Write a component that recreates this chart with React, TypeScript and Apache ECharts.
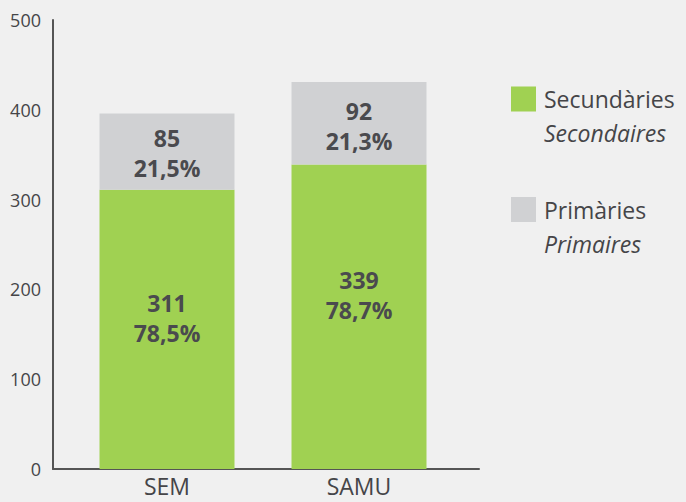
import React, { useEffect, useRef } from "react";
import * as echarts from "echarts";

const categories = ["SEM", "SAMU"];
const secundaries = [311, 339];
const primaries = [85, 92];
const secPct = ["78,5%", "78,7%"];
const priPct = ["21,5%", "21,3%"];
const yTicks = { min: 0, max: 500, interval: 100 };

const FONT = "'Open Sans', 'Noto Sans', sans-serif";
const TXT = "#454548";

export default function App() {
  const ref = useRef<HTMLDivElement>(null);
  useEffect(() => {
    if (!ref.current) return;
    const chart = echarts.init(ref.current, null, { renderer: "svg" });
    const secOffsets = [[0, -11], [0, -22]];
    const priOffsets = [[0, 1], [0, 3]];
    chart.setOption({
      animation: false,
      backgroundColor: "#f0f0f0",
      textStyle: { fontFamily: FONT },
      grid: [
        { left: 53, right: 207, top: 20, bottom: 33 },
        { left: 71, width: 384, top: 20, bottom: 33 },
      ],
      xAxis: [
        {
          gridIndex: 0,
          type: "value",
          min: 0,
          max: 1,
          axisLine: { show: true, lineStyle: { color: "#555", width: 2 } },
          axisTick: { show: false },
          axisLabel: { show: false },
          splitLine: { show: false },
        },
        {
          gridIndex: 1,
          type: "category",
          data: categories,
          axisLine: { show: false },
          axisTick: { show: false },
          axisLabel: { fontSize: 23, color: TXT, margin: 5, fontFamily: FONT },
        },
      ],
      yAxis: [
        {
          gridIndex: 0,
          type: "value",
          min: yTicks.min,
          max: yTicks.max,
          interval: yTicks.interval,
          axisLine: { show: true, lineStyle: { color: "#555", width: 2 } },
          axisTick: { show: false },
          axisLabel: { fontSize: 18, color: TXT, margin: 12, fontFamily: FONT },
          splitLine: { show: false },
        },
        {
          gridIndex: 1,
          type: "value",
          min: yTicks.min,
          max: yTicks.max,
          show: false,
          splitLine: { show: false },
        },
      ],
      legend: {
        orient: "vertical",
        left: 511,
        top: 60,
        padding: 0,
        itemWidth: 25,
        itemHeight: 25,
        itemGap: 26,
        icon: "rect",
        data: ["Secundàries", "Primàries"],
        formatter: (name: string) =>
          name === "Secundàries"
            ? "{e| }\n{a|Secundàries}\n{b|Secondaires}"
            : "{e| }\n{a|Primàries}\n{b|Primaires}",
        textStyle: {
          rich: {
            e: { fontSize: 10, lineHeight: 34 },
            a: { fontSize: 23, color: TXT, lineHeight: 34, fontFamily: FONT, padding: [0, 0, 0, 3] },
            b: { fontSize: 23, color: TXT, lineHeight: 34, fontStyle: "italic", fontFamily: FONT, padding: [0, 0, 0, 3] },
          },
        },
      },
      series: [
        {
          type: "scatter",
          xAxisIndex: 0,
          yAxisIndex: 0,
          data: [],
        },
        {
          name: "Secundàries",
          type: "bar",
          stack: "t",
          xAxisIndex: 1,
          yAxisIndex: 1,
          barWidth: 135,
          itemStyle: { color: "#a0d152" },
          data: secundaries.map((v, i) => ({
            value: v,
            label: { offset: secOffsets[i] },
          })),
          label: {
            show: true,
            position: "inside",
            formatter: (p: any) => `${p.value}\n${secPct[p.dataIndex]}`,
            fontSize: 23,
            fontWeight: "bold",
            lineHeight: 30,
            color: "#4a4a4e",
            fontFamily: FONT,
          },
        },
        {
          name: "Primàries",
          type: "bar",
          stack: "t",
          xAxisIndex: 1,
          yAxisIndex: 1,
          barWidth: 135,
          itemStyle: { color: "#d0d1d3" },
          data: primaries.map((v, i) => ({
            value: v,
            label: { offset: priOffsets[i] },
          })),
          label: {
            show: true,
            position: "inside",
            formatter: (p: any) => `${p.value}\n${priPct[p.dataIndex]}`,
            fontSize: 23,
            fontWeight: "bold",
            lineHeight: 30,
            color: "#4a4a4e",
            fontFamily: FONT,
          },
        },
      ],
    });
    return () => chart.dispose();
  }, []);
  return (
    <div
      ref={ref}
      style={{ position: "fixed", left: 0, top: 0, width: 686, height: 502 }}
    />
  );
}
